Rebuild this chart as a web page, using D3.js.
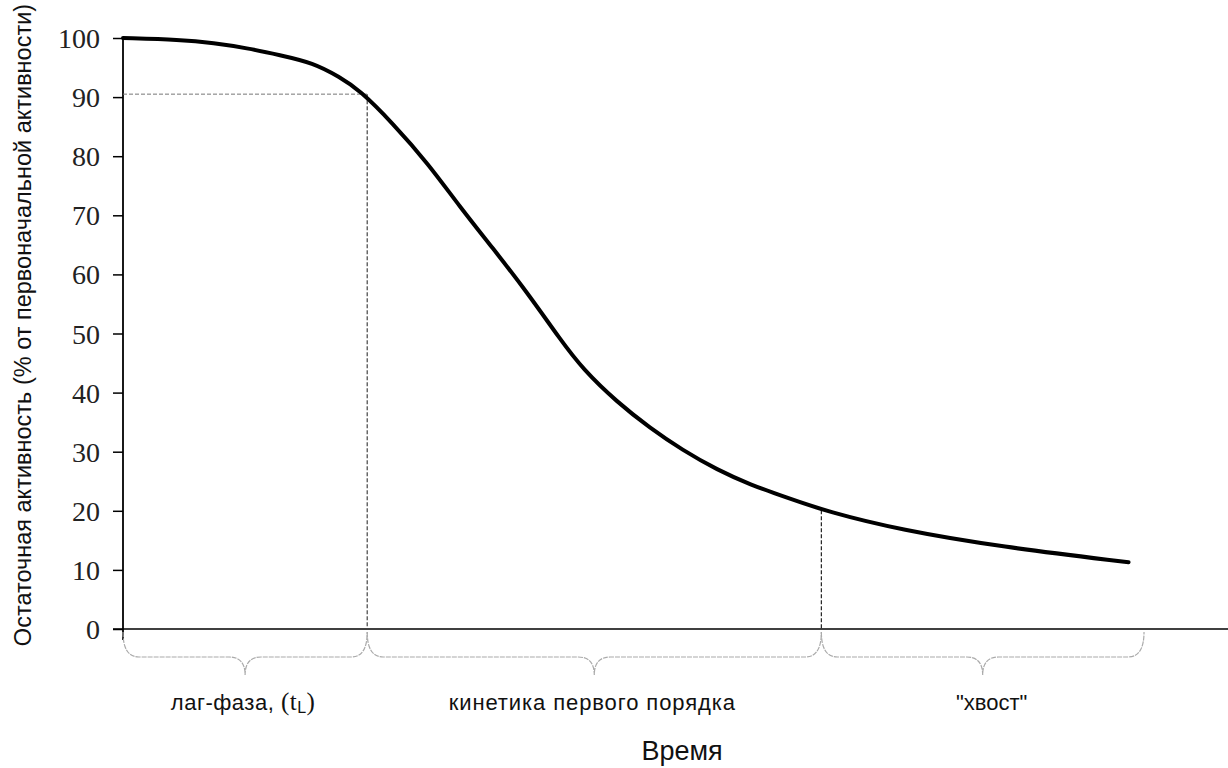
<!DOCTYPE html>
<html>
<head>
<meta charset="utf-8">
<script src="https://cdn.jsdelivr.net/npm/d3@7"></script>
<style>
  body { margin: 0; background: #fff; }
</style>
</head>
<body>
<div id="chart"></div>
<script>
// Inactivation curve (time in arbitrary units)
const time     = [0, 2.6, 4.1, 5.6, 7.1, 8.6, 9.8, 10.7, 12.2, 13.8, 15.25, 16.7, 18.3, 19.8, 20.8, 22.35, 23.85, 25.3, 26.9, 28.4, 29.9, 31.9, 35.2, 39.7, 45.5];
const activity = [100, 99.7, 99.15, 98.3, 97.1, 95.8, 93.4, 91.2, 85.6, 78.8, 71.4, 64.6, 56.9, 48.9, 44.0, 38.4, 34.0, 30.3, 26.9, 24.4, 22.4, 19.8, 16.75, 13.9, 11.3];

const yTicks = [0, 10, 20, 30, 40, 50, 60, 70, 80, 90, 100];

// phase boundaries and labels
const phaseBounds = [0, 11.05, 31.6, 46.2];
const phaseLabels = ['лаг-фаза, ', 'кинетика первого порядка', '"хвост"'];
const lagLevel = 90.5;
const tailLevel = 20.1;

const width = 1228, height = 768;

const svg = d3.select('#chart').append('svg')
  .attr('width', width)
  .attr('height', height);

const x = d3.scaleLinear().domain([0, 50]).range([123, 1228]);
const y = d3.scaleLinear().domain([0, 100]).range([629, 38]);

// Y axis ticks and labels
const yAxis = d3.axisLeft(y)
  .tickValues(yTicks)
  .tickSize(10)
  .tickPadding(13)
  .tickFormat(d3.format('d'));

const gy = svg.append('g')
  .attr('transform', `translate(${x(0)},0)`)
  .call(yAxis);
gy.select('.domain').remove();
gy.selectAll('.tick line').attr('stroke', '#000').attr('stroke-width', 1.5);
gy.selectAll('.tick text')
  .attr('fill', '#222')
  .attr('dy', '0.34em')
  .style('font-family', '"Liberation Serif", "Times New Roman", serif')
  .style('font-size', '28px');

// axis lines
svg.append('line')
  .attr('x1', x(0)).attr('x2', x(0))
  .attr('y1', y(100)).attr('y2', y(0) + 11)
  .attr('stroke', '#000').attr('stroke-width', 1.8);

svg.append('line')
  .attr('x1', x(0) - 10).attr('x2', width)
  .attr('y1', y(0)).attr('y2', y(0))
  .attr('stroke', '#000').attr('stroke-width', 1.5);

// guide lines
svg.append('line')
  .attr('x1', x(0)).attr('x2', x(phaseBounds[1]))
  .attr('y1', y(lagLevel)).attr('y2', y(lagLevel))
  .attr('stroke', '#777').attr('stroke-width', 1)
  .attr('stroke-dasharray', '4,2');

svg.append('line')
  .attr('x1', x(phaseBounds[1])).attr('x2', x(phaseBounds[1]))
  .attr('y1', y(lagLevel)).attr('y2', y(0))
  .attr('stroke', '#444').attr('stroke-width', 1.2)
  .attr('stroke-dasharray', '4,2');

svg.append('line')
  .attr('x1', x(phaseBounds[2])).attr('x2', x(phaseBounds[2]))
  .attr('y1', y(tailLevel)).attr('y2', y(0))
  .attr('stroke', '#222').attr('stroke-width', 1.2)
  .attr('stroke-dasharray', '4,2');

// curve
const line = d3.line()
  .x((d, i) => x(time[i]))
  .y(d => y(d))
  .curve(d3.curveBasis);

svg.append('path')
  .datum(activity)
  .attr('d', line)
  .attr('fill', 'none')
  .attr('stroke', '#000')
  .attr('stroke-width', 4)
  .attr('stroke-linecap', 'round');

// curly braces under each phase
function brace(x0, x1) {
  const top = y(0) + 3, lvl = y(0) + 28, tip = y(0) + 46, r = 16;
  const m = (x0 + x1) / 2;
  return `M${x0},${top} Q${x0},${lvl} ${x0 + r},${lvl} L${m - r},${lvl} ` +
         `Q${m},${lvl} ${m},${tip} Q${m},${lvl} ${m + r},${lvl} ` +
         `L${x1 - r},${lvl} Q${x1},${lvl} ${x1},${top}`;
}

for (let i = 0; i < 3; i++) {
  svg.append('path')
    .attr('d', brace(x(phaseBounds[i]), x(phaseBounds[i + 1])))
    .attr('fill', 'none')
    .attr('stroke', '#aaa')
    .attr('stroke-width', 1.2)
    .attr('stroke-dasharray', '5,1');
}

// phase labels
const labelFont = '"Liberation Sans", Arial, sans-serif';
const labelSize = ['22px', '22px', '22px'];
const labelSpacing = ['0.5px', '0.9px', '0px'];
phaseLabels.forEach((lab, i) => {
  const cx = (x(phaseBounds[i]) + x(phaseBounds[i + 1])) / 2;
  const t = svg.append('text')
    .attr('x', cx + (i === 2 ? 9 : -2))
    .attr('y', 710)
    .attr('text-anchor', 'middle')
    .style('font-family', labelFont)
    .style('font-size', labelSize[i])
    .style('letter-spacing', labelSpacing[i])
    .attr('fill', '#111');
  t.append('tspan').text(lab);
  if (i === 0) {
    t.append('tspan').text('(t')
      .style('font-family', '"Liberation Serif", serif').style('font-size', '25px');
    t.append('tspan').text('L').attr('dy', 3)
      .style('font-size', '16px');
    t.append('tspan').text(')').attr('dy', -3)
      .style('font-family', '"Liberation Serif", serif').style('font-size', '25px');
  }
});

// axis titles
svg.append('text')
  .attr('x', 682)
  .attr('y', 760)
  .attr('text-anchor', 'middle')
  .style('font-family', labelFont)
  .style('font-size', '27px')
  .attr('fill', '#111')
  .text('Время');

svg.append('text')
  .attr('transform', 'translate(31,325) rotate(-90)')
  .attr('text-anchor', 'middle')
  .style('font-family', labelFont)
  .style('font-size', '23.5px')
  .attr('fill', '#111')
  .text('Остаточная активность (% от первоначальной активности)');
</script>
</body>
</html>
